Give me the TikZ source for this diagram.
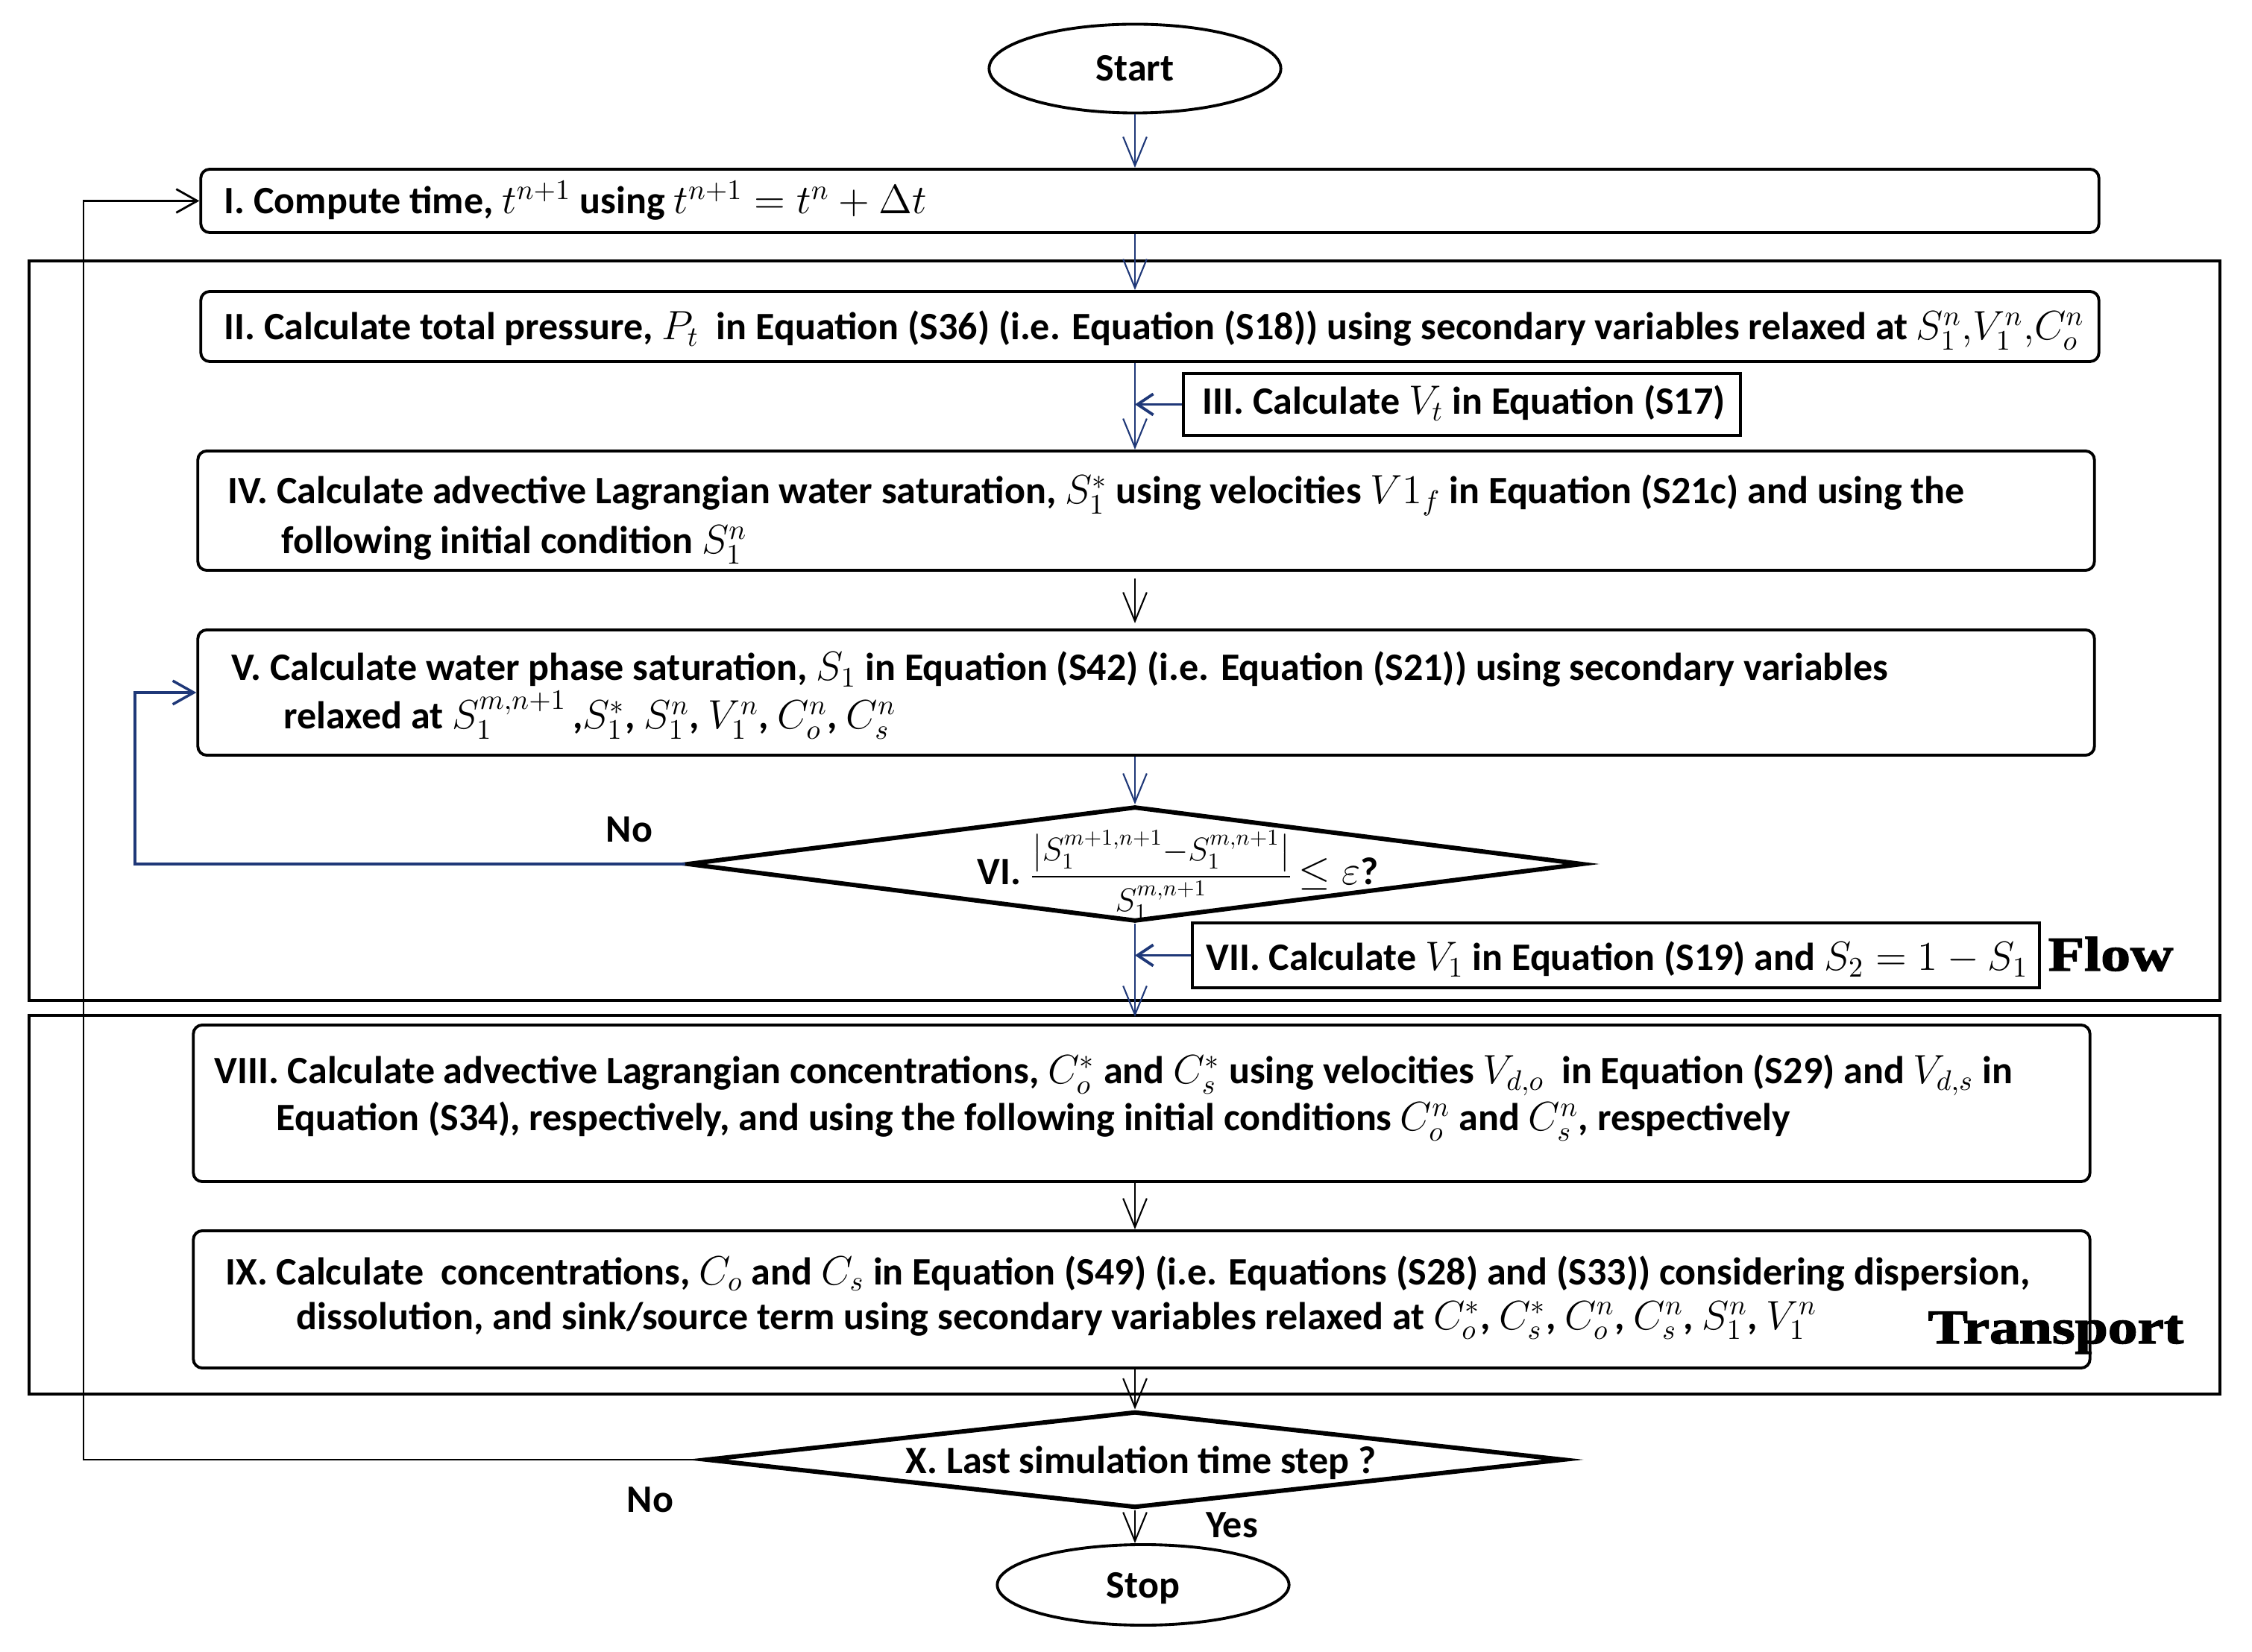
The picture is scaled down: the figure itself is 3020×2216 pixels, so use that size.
\RequirePackage{fix-cm}
\documentclass[tikz,border=0pt]{standalone}
\usepackage{amsmath}
\usepackage{fontspec}
\setmainfont{Carlito}
\newfontfamily\headfont{Liberation Serif}[BoldFeatures={FakeBold=2}]
\DeclareMathSizes{14.8}{15.6}{10.8}{8}
\usetikzlibrary{arrows.meta,shapes.geometric,calc}
\definecolor{navy}{RGB}{31,56,120}
\begin{document}
\begin{tikzpicture}[x=0.01cm,y=-0.01cm,
  rbox/.style={draw,line width=1.1pt,rounded corners=0.12cm,inner sep=0pt},
  sbox/.style={draw,line width=1.1pt,inner sep=0pt},
  dia/.style={diamond,draw,line width=1.7pt,inner sep=0pt},
  ell/.style={ellipse,draw,line width=1.1pt,inner sep=0pt},
  txt/.style={inner sep=0pt,anchor=base west,text height=0.36cm,text depth=0.1cm,font=\fontsize{14.8}{17}\selectfont\bfseries},
  ctxt/.style={inner sep=0pt,anchor=base,font=\fontsize{14.8}{17}\selectfont\bfseries},
  head/.style={inner sep=0pt,anchor=base west,font=\headfont\fontsize{18.5}{20}\selectfont\bfseries},
  barr/.style={draw=navy,line width=0.6pt,-{Straight Barb[length=11pt,width=9pt]}},
  karr/.style={draw=black,line width=0.6pt,-{Straight Barb[length=11pt,width=9pt]}},
  sidearr/.style={draw=navy,line width=1.1pt,-{Straight Barb[length=6pt,width=8pt]}},
  kloop/.style={draw=black,line width=0.8pt,-{Straight Barb[length=8pt,width=9pt]}},
  bloop/.style={draw=navy,line width=1pt,-{Straight Barb[length=8pt,width=9pt]}}
]
\useasboundingbox (0,0) rectangle (3020,2216);
\coordinate (mx) at (1522,0);
\coordinate (lx) at (112,0);
\coordinate (lv) at (181,0);

% group frames
\node[sbox,minimum width=29.36cm,minimum height=9.92cm] (flow) at (1508,846) {};
\node[sbox,minimum width=29.36cm,minimum height=5.08cm] (transport) at (1508,1616) {};

% shapes
\node[ell,minimum width=3.91cm,minimum height=1.19cm] (start) at (1522,92) {};
\node[rbox,minimum width=25.44cm,minimum height=0.85cm] (I) at (1542,269.5) {};
\node[rbox,minimum width=25.44cm,minimum height=0.94cm] (II) at (1542,438) {};
\node[sbox,minimum width=7.47cm,minimum height=0.83cm] (III) at (1960.5,542.5) {};
\node[rbox,minimum width=25.42cm,minimum height=1.60cm] (IV) at (1537,685) {};
\node[rbox,minimum width=25.42cm,minimum height=1.68cm] (V) at (1537,929) {};
\node[dia,minimum width=12.0cm,minimum height=1.54cm] (VI) at (1522,1159) {};
\node[sbox,minimum width=11.36cm,minimum height=0.87cm] (VII) at (2167,1281.5) {};
\node[rbox,minimum width=25.42cm,minimum height=2.10cm] (VIII) at (1531,1480) {};
\node[rbox,minimum width=25.42cm,minimum height=1.84cm] (IX) at (1531,1743) {};
\node[dia,minimum width=11.5cm,minimum height=1.29cm] (X) at (1522,1958) {};
\node[ell,minimum width=3.91cm,minimum height=1.08cm] (stop) at (1533,2126) {};

% texts
\node[ctxt] (tstart) at (1522,109) {Start};
\node[txt] (tI) at (300,287) {I. Compute time, $t^{n+1}$ using $t^{n+1}=t^n+\Delta t$};
\node[txt] (tII) at (300,456) {II. Calculate total pressure, $P_t$\ \ in Equation (S36) (i.e. Equation (S18)) using secondary variables relaxed at $S_1^n{,}V_1^n{,}C_o^n$};
\node[txt] (tIII) at (1612,556) {III. Calculate $V_t$ in Equation (S17)};
\node[txt] (tIVa) at (305,676) {IV. Calculate advective Lagrangian water saturation, $S_1^*$ using velocities $V1_f$ in Equation (S21c) and using the};
\node[txt] (tIVb) at (377,743) {following initial condition $S_1^n$};
\node[txt] (tVa) at (310,913) {V. Calculate water phase saturation, $S_1$ in Equation (S42) (i.e. Equation (S21)) using secondary variables};
\node[txt] (tVb) at (380,978) {relaxed at $S_1^{m,n+1}$\,,$S_1^*$, $S_1^n$, $V_1^n$, $C_o^n$, $C_s^n$};
\node[ctxt,anchor=base west] (tVI) at (1310,1187) {VI. \scalebox{0.8}{$\dfrac{\bigl|S_1^{m+1,n+1}{-}S_1^{m,n+1}\bigr|}{S_1^{m,n+1}}$}\,$\le\varepsilon$?};
\node[txt] (tVII) at (1617,1302) {VII. Calculate $V_1$ in Equation (S19) and $S_2=1-S_1$};
\node[txt] (tVIIIa) at (287,1454) {VIII. Calculate advective Lagrangian concentrations, $C_o^*$ and $C_s^*$ using velocities $V_{d,o}$\ \ in Equation (S29) and $V_{d,s}$ in};
\node[txt] (tVIIIb) at (370,1517) {Equation (S34), respectively, and using the following initial conditions $C_o^n$ and $C_s^n$, respectively};
\node[txt] (tIXa) at (302,1723) {IX. Calculate\ \ concentrations, $C_o$ and $C_s$ in Equation (S49) (i.e. Equations (S28) and (S33)) considering dispersion,};
\node[txt] (tIXb) at (397,1783) {dissolution, and sink/source term using secondary variables relaxed at $C_o^*$, $C_s^*$, $C_o^n$, $C_s^n$, $S_1^n$, $V_1^n$};
\node[ctxt] (tX) at (1530,1976) {X. Last simulation time step ?};
\node[ctxt] (tstop) at (1533,2143) {Stop};
\node[ctxt] (no1) at (844,1130) {No};
\node[ctxt] (no2) at (872,2028) {No};
\node[ctxt] (yes) at (1652,2062) {Yes};
\node[head] (tflow) at (2746,1302) {\scalebox{1.22}[1]{Flow}};
\node[head] (ttransport) at (2585,1802) {\scalebox{1.22}[1]{Transport}};

% connectors
\draw[barr] (start.south) -- (start.south |- I.north);
\draw[barr] (I.south -| mx) -- (II.north -| mx);
\draw[barr] (II.south -| mx) -- (IV.north -| mx);
\draw[sidearr] (III.west) -- (III.west -| mx);
\draw[karr,shorten <=0.09cm,shorten >=0.07cm] (IV.south -| mx) -- (V.north -| mx);
\draw[barr] (V.south -| mx) -- (VI.north);
\draw[barr,shorten >=0.09cm] (VI.south) -- (VIII.north -| mx);
\draw[sidearr] (VII.west) -- (VII.west -| mx);
\draw[karr] (VIII.south -| mx) -- (IX.north -| mx);
\draw[karr] (IX.south -| mx) -- (X.north);
\draw[karr] (X.south) -- (X.south |- stop.north);
\draw[kloop] (X.west) -- (X.west -| lx) -- (I.west -| lx) -- (I.west);
\draw[bloop] (VI.west) -- (VI.west -| lv) -- (V.west -| lv) -- (V.west);
\end{tikzpicture}
\end{document}
